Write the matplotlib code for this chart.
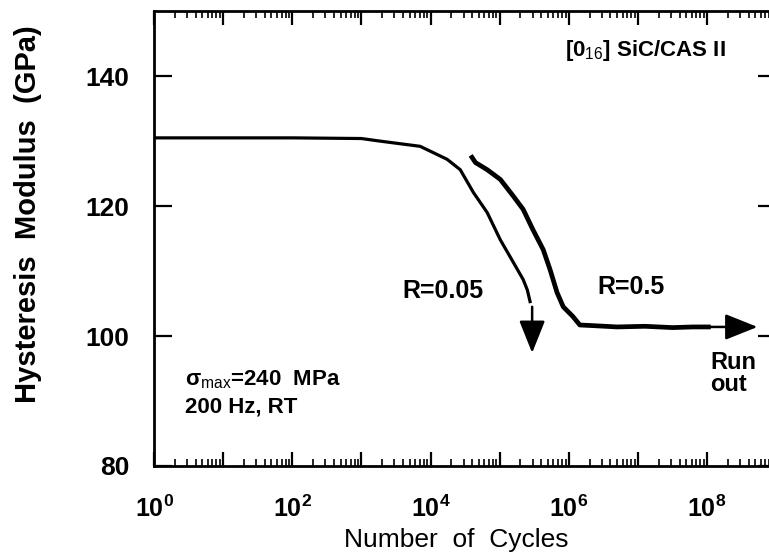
import numpy as np
import matplotlib.pyplot as plt
from matplotlib.ticker import LogLocator, FixedLocator, NullFormatter

plt.rcParams['font.family'] = ['Liberation Sans', 'DejaVu Sans']
plt.rcParams['mathtext.fontset'] = 'custom'
plt.rcParams['mathtext.rm'] = 'Liberation Sans'
plt.rcParams['mathtext.it'] = 'Liberation Sans:italic'
plt.rcParams['mathtext.bf'] = 'Liberation Sans:bold'

# R = 0.05 curve (log10 cycles, modulus GPa), ends with failure arrow
logn_r005 = [0.0, 1.0, 2.0, 3.0, 3.27, 3.85, 4.24, 4.43, 4.62, 4.82, 5.01, 5.20, 5.34, 5.40, 5.44]
mod_r005 = [130.5, 130.5, 130.5, 130.4, 130.0, 129.2, 127.2, 125.6, 122.1, 119.0, 114.8, 111.3, 108.7, 107.1, 105.3]

# R = 0.5 curve, run-out
logn_r05 = [4.60, 4.65, 4.82, 5.01, 5.20, 5.34, 5.48, 5.63, 5.73, 5.83, 5.92, 6.06, 6.16, 6.35, 6.7, 7.1, 7.5, 7.8, 8.02]
mod_r05 = [127.5, 126.7, 125.6, 124.1, 121.5, 119.5, 116.4, 113.3, 110.2, 106.7, 104.5, 103.0, 101.7, 101.6, 101.4, 101.5, 101.3, 101.4, 101.4]

# arrows: (log10 start, log10 end, y start, y end)
fail_arrow = (5.47, 5.47, 104.5, 97.4)
runout_arrow = (8.02, 8.73, 101.4, 101.4)

fig = plt.figure(figsize=(7.69, 5.56), dpi=100)
ax = fig.add_axes([0.2003, 0.1619, 0.809, 0.818])

ax.plot(10 ** np.array(logn_r005), mod_r005, color='black', lw=2.3)
ax.plot(10 ** np.array(logn_r05), mod_r05, color='black', lw=3.4)

for x0, x1, y0, y1 in [fail_arrow, runout_arrow]:
    ax.annotate('', xy=(10 ** x1, y1), xytext=(10 ** x0, y0),
                arrowprops=dict(arrowstyle='-|>,head_length=1.0,head_width=0.4',
                                color='black', lw=1.8, mutation_scale=20,
                                shrinkA=0, shrinkB=0))

ax.set_xscale('log')
ax.set_xlim(1, 1e9)
ax.set_ylim(80, 150)

decades = [10.0 ** k for k in range(10)]
ax.xaxis.set_major_locator(FixedLocator(decades))
ax.set_xticklabels([r'$\mathbf{10^{%d}}$' % k if k % 2 == 0 else '' for k in range(10)])
ax.xaxis.set_minor_locator(LogLocator(base=10, subs=np.arange(2, 10), numticks=100))
ax.xaxis.set_minor_formatter(NullFormatter())
ax.set_yticks([80, 100, 120, 140])

ax.tick_params(axis='x', which='major', direction='in', length=10, width=1.6,
               top=True, labelsize=18, pad=21)
ax.tick_params(axis='x', which='minor', direction='in', length=5, width=1.2, top=True)
ax.tick_params(axis='y', which='major', direction='in', length=13, width=1.6,
               right=True, labelsize=19, pad=18)

for s in ['left', 'top', 'bottom', 'right']:
    ax.spines[s].set_linewidth(2.0)

for lab in ax.get_yticklabels():
    lab.set_fontweight('bold')

fig.text(28 / 769, 1 - 214 / 556, 'Hysteresis  Modulus  (GPa)', rotation=90,
         ha='center', va='center', fontsize=21, fontweight='bold')
fig.text(456 / 769, 1 - 540 / 556, 'Number  of  Cycles', ha='center', va='center',
         fontsize=19)

ax.text(10 ** 5.95, 144.0, '[0$_{16}$] SiC/CAS II', fontsize=16, fontweight='bold', va='center')
ax.text(10 ** 3.59, 107.0, 'R=0.05', fontsize=18, fontweight='bold', va='center')
ax.text(10 ** 6.41, 107.5, 'R=0.5', fontsize=18, fontweight='bold', va='center')
ax.text(10 ** 8.05, 95.9, 'Run', fontsize=17, fontweight='bold', va='center')
ax.text(10 ** 8.05, 92.6, 'out', fontsize=17, fontweight='bold', va='center')
ax.text(10 ** 0.45, 93.3, r'σ$_{\mathrm{max}}$=240  MPa', fontsize=16, fontweight='bold', va='center')
ax.text(10 ** 0.45, 89.1, '200 Hz, RT', fontsize=16, fontweight='bold', va='center')

fig.savefig('out.png', dpi=100)
